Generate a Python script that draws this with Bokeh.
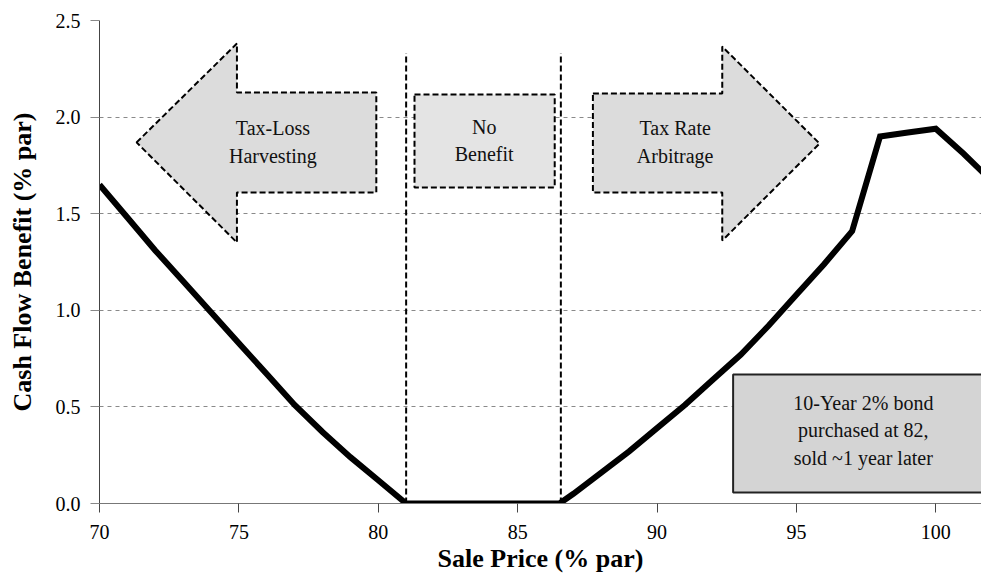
from bokeh.plotting import figure
from bokeh.models import Range1d, ColumnDataSource, NumeralTickFormatter
from bokeh.embed import file_html
from bokeh.resources import INLINE
from bokeh.core.properties import value

# ---- data ----
sale_price = [70, 71, 72, 73, 74, 75, 76, 77, 78, 79, 80, 81, 82, 83, 84, 85, 86, 86.5,
              87, 88, 89, 90, 91, 92, 93, 94, 95, 96, 97, 98, 99, 100, 101, 102]
cash_flow_benefit = [1.65, 1.48, 1.31, 1.15, 0.99, 0.83, 0.67, 0.51, 0.37, 0.24, 0.12, 0.0,
                     0.0, 0.0, 0.0, 0.0, 0.0, 0.0,
                     0.05, 0.16, 0.27, 0.39, 0.51, 0.64, 0.77, 0.92, 1.08, 1.24, 1.41,
                     1.90, 1.92, 1.94, 1.81, 1.67]

boundary_prices = [81.0, 86.55]
boundary_top = 2.33

y_ticks = [0.0, 0.5, 1.0, 1.5, 2.0, 2.5]
x_ticks = [70, 75, 80, 85, 90, 95, 100]

region_labels = ["Tax-Loss\nHarvesting", "No\nBenefit", "Tax Rate\nArbitrage"]
note_text = "10-Year 2% bond\npurchased at 82,\nsold ~1 year later"

# annotation shapes (data coordinates)
left_arrow_x = [71.33, 74.93, 74.93, 79.93, 79.93, 74.93, 74.93]
left_arrow_y = [1.869, 2.381, 2.127, 2.127, 1.610, 1.610, 1.351]
mid_box_x = [81.3, 86.33, 86.33, 81.3]
mid_box_y = [2.117, 2.117, 1.636, 1.636]
right_arrow_x = [87.7, 92.34, 92.34, 95.83, 92.34, 92.34, 87.7]
right_arrow_y = [2.122, 2.122, 2.365, 1.863, 1.361, 1.610, 1.610]
note_box = dict(left=92.73, right=103.5, top=0.668, bottom=0.057)

SERIF = "Liberation Serif"

p = figure(width=981, height=579, output_backend="svg", toolbar_location=None,
           x_range=Range1d(70, 101.64), y_range=Range1d(0, 2.5),
           min_border_left=99, min_border_right=0, min_border_top=20, min_border_bottom=76)
p.outline_line_color = None
p.background_fill_color = "white"

# grid
p.xgrid.grid_line_color = None
p.ygrid.ticker = y_ticks
p.ygrid.grid_line_color = "#8a8a8a"
p.ygrid.grid_line_dash = "4 4"
p.ygrid.grid_line_width = 1

# axes
p.xaxis.ticker = x_ticks
p.yaxis.ticker = y_ticks
p.yaxis.formatter = NumeralTickFormatter(format="0.0")
for ax in (p.xaxis[0], p.yaxis[0]):
    ax.major_label_text_font = SERIF
    ax.major_label_text_font_size = "20px"
    ax.major_label_text_color = "black"
    ax.axis_label_text_font = SERIF
    ax.axis_label_text_font_style = "bold"
    ax.axis_label_text_font_size = "26px"
    ax.axis_label_text_color = "black"
    ax.minor_tick_line_color = None
    ax.major_tick_in = 0
    ax.major_tick_out = 9
    ax.major_tick_line_color = "#444"
p.xaxis.axis_line_color = "#777"
p.yaxis.axis_line_color = "#444"
p.yaxis.major_tick_line_color = "#888"
p.xaxis.axis_label = "Sale Price (% par)"
p.yaxis.axis_label = "Cash Flow Benefit (% par)"
p.xaxis.major_label_standoff = 12
p.yaxis.major_label_standoff = 10
p.xaxis.axis_label_standoff = 2
p.yaxis.axis_label_standoff = 16

# annotation shapes
shape_style = dict(line_color="black", line_width=2, line_dash="6 3")
p.patch(left_arrow_x, left_arrow_y, fill_color="#dcdcdc", **shape_style)
p.patch(mid_box_x, mid_box_y, fill_color="#e4e4e4", **shape_style)
p.patch(right_arrow_x, right_arrow_y, fill_color="#dcdcdc", **shape_style)
p.quad(left=[note_box["left"]], right=[note_box["right"]], top=[note_box["top"]],
       bottom=[note_box["bottom"]], fill_color="#d4d4d4", line_color="#222", line_width=2)

# boundaries
for bx in boundary_prices:
    p.segment(x0=[bx], y0=[0], x1=[bx], y1=[boundary_top], line_color="black",
              line_width=2, line_dash="6 3")

# data line
p.line(sale_price, cash_flow_benefit, line_color="black", line_width=6, line_join="miter")

# labels
txt = ColumnDataSource(dict(x=[76.22, 83.8, 90.65, 97.4],
                            y=[1.87, 1.88, 1.87, 0.38],
                            t=region_labels + [note_text]))
p.text(x="x", y="y", text="t", source=txt, text_font=value(SERIF), text_font_size="20px",
       text_align="center", text_baseline="middle", text_color="#111", text_line_height=1.25)

open("out.html", "w").write(file_html(p, INLINE))
